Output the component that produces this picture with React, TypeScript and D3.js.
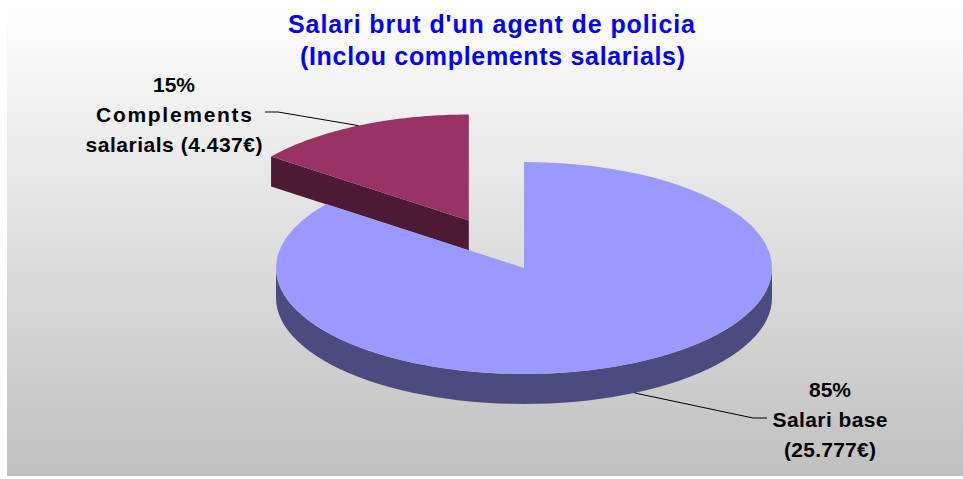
import React from "react";
import * as d3 from "d3";

// dades del gràfic
const categories = ["Salari base", "Complements salarials"];
const values = [25777, 4437];
const colors = ["#9999FF", "#993366"];
const sideColors = ["#4B4B80", "#4D1A33"];
const titleLines = ["Salari brut d'un agent de policia", "(Inclou complements salarials)"];

const W = 963;
const H = 479;

const locale = d3.formatLocale({ decimal: ",", thousands: ".", grouping: [3], currency: ["", "€"] });
const fmtMoney = locale.format(",.0f");
const fmtPct = d3.format(".0%");

export default function App() {
  const cx = 524;
  const cy = 268;
  const rx = 248;
  const ry = 106;
  const depth = 30;
  const explode = [0, 0.5]; // fracció del radi

  const total = d3.sum(values);
  const pie = d3.pie<number>().sort(null).startAngle(0).endAngle(2 * Math.PI);
  const arcs = pie(values);

  // projecció de l'angle (mesurat des de les 12 en sentit horari)
  const proj = (a: number, r: number, ox: number, oy: number, dz = 0): [number, number] => [
    cx + ox + rx * r * Math.sin(a),
    cy + oy - ry * r * Math.cos(a) + dz,
  ];
  const line = d3.line<[number, number]>();
  const sample = (a0: number, a1: number) => d3.range(0, 61).map((i) => a0 + ((a1 - a0) * i) / 60);

  const slices = arcs.map((d, i) => {
    const mid = (d.startAngle + d.endAngle) / 2;
    const off = explode[i] * rx;
    const ox = off * Math.sin(mid);
    const oy = -off * Math.cos(mid) * (ry / rx);
    const top = [proj(0, 0, ox, oy), ...sample(d.startAngle, d.endAngle).map((a) => proj(a, 1, ox, oy))];
    const walls: [number, number][][] = [];
    // parets radials
    if (Math.sin(d.startAngle) < -1e-6) {
      const p = proj(d.startAngle, 1, ox, oy);
      const c = proj(0, 0, ox, oy);
      walls.push([c, p, [p[0], p[1] + depth], [c[0], c[1] + depth]]);
    }
    if (Math.sin(d.endAngle) > 1e-6) {
      const p = proj(d.endAngle, 1, ox, oy);
      const c = proj(0, 0, ox, oy);
      walls.push([c, p, [p[0], p[1] + depth], [c[0], c[1] + depth]]);
    }
    // paret exterior (part frontal)
    const a0 = Math.max(d.startAngle, Math.PI / 2);
    const a1 = Math.min(d.endAngle, (3 * Math.PI) / 2);
    if (a1 > a0) {
      const s = sample(a0, a1);
      walls.push([
        ...s.map((a) => proj(a, 1, ox, oy)),
        ...s.reverse().map((a) => proj(a, 1, ox, oy, depth)),
      ]);
    }
    const front = Math.cos(mid) < 0;
    const anchor = proj(mid, 1, ox, oy, front ? depth : 0);
    return { i, top, walls, anchor, mid };
  });

  // etiquetes
  const labelPos = [
    { x: 830, y: 397, lx: 753, ly: 418, hx: 767 },
    { x: 174, y: 92, lx: 278, ly: 112, hx: 265 },
  ];
  const labelLines = (i: number) =>
    i === 0
      ? [fmtPct(values[i] / total), "Salari base", `(${fmtMoney(values[i])}€)`]
      : [fmtPct(values[i] / total), "Complements", `salarials (${fmtMoney(values[i])}€)`];
  const labelWidths = [
    [42, 115, 92],
    [42, 156, 177],
  ];

  return (
    <div style={{ position: "absolute", left: 0, top: 0 }}>
      <svg width={W} height={H} style={{ display: "block" }}>
        <defs>
          <linearGradient id="bg" x1="0" y1="0" x2="0" y2="1">
            <stop offset="0" stopColor="#ffffff" />
            <stop offset="1" stopColor="#c0c0c0" />
          </linearGradient>
        </defs>
        <rect x={0} y={0} width={W} height={H} fill="#ffffff" />
        <rect x={7} y={0} width={W - 7} height={476} fill="url(#bg)" />

        {/* títol */}
        <g fontFamily="'Liberation Sans', Arial, sans-serif" fontWeight="bold" fontSize={25} fill="#0000FF" textAnchor="middle">
          <text x={491.5} y={33} textLength={407} lengthAdjust="spacing">
            {titleLines[0]}
          </text>
          <text x={492.5} y={65} textLength={385} lengthAdjust="spacing">
            {titleLines[1]}
          </text>
        </g>

        {/* pastís 3D: primer la porció de darrere */}
        {[...slices].reverse().map((s) => (
          <g key={s.i}>
            {s.walls.map((w, k) => (
              <path key={k} d={line(w) + "Z"} fill={sideColors[s.i]} />
            ))}
            <path d={line(s.top) + "Z"} fill={colors[s.i]} />
          </g>
        ))}

        {/* línies guia i etiquetes */}
        {slices.map((s) => {
          const lp = labelPos[s.i];
          return (
            <g key={s.i}>
              <polyline
                points={`${s.anchor[0]},${s.anchor[1]} ${lp.lx},${lp.ly} ${lp.hx},${lp.ly}`}
                fill="none"
                stroke="#000"
                strokeWidth={1}
              />
              <g fontFamily="'Liberation Sans', Arial, sans-serif" fontWeight="bold" fontSize={21} fill="#000" textAnchor="middle">
                {labelLines(s.i).map((t, k) => (
                  <text key={k} x={lp.x} y={lp.y + k * 30} textLength={labelWidths[s.i][k]} lengthAdjust="spacing">
                    {t}
                  </text>
                ))}
              </g>
            </g>
          );
        })}
      </svg>
    </div>
  );
}
